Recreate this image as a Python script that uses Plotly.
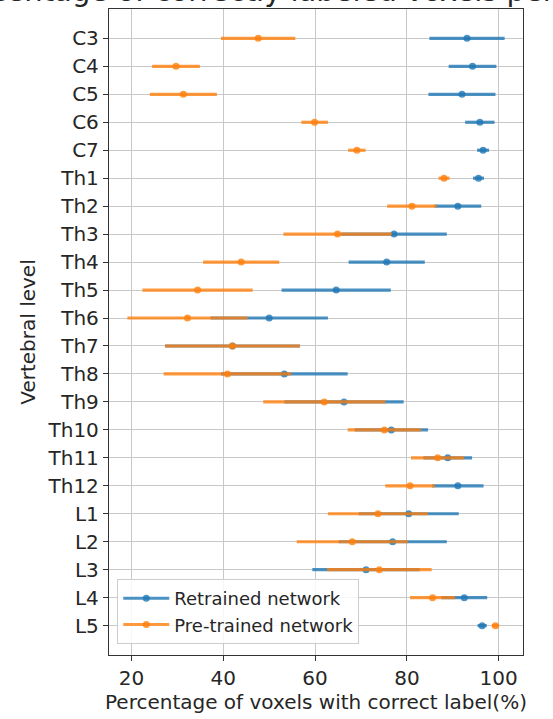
import plotly.graph_objects as go

levels = ["C3", "C4", "C5", "C6", "C7", "Th1", "Th2", "Th3", "Th4", "Th5", "Th6",
          "Th7", "Th8", "Th9", "Th10", "Th11", "Th12", "L1", "L2", "L3", "L4", "L5"]

retrained_mean = [93.1, 94.3, 92.0, 95.9, 96.6, 95.6, 91.1, 77.2, 75.6, 64.6, 50.0,
                  42.0, 53.3, 66.3, 76.6, 88.9, 91.1, 80.4, 76.9, 71.1, 92.5, 96.4]
retrained_err = [8.2, 5.2, 7.3, 3.2, 1.3, 1.2, 5.1, 11.5, 8.3, 11.9, 12.8,
                 14.7, 13.8, 13.0, 8.0, 5.3, 5.6, 10.9, 11.8, 11.7, 5.0, 1.0]

pretrained_mean = [47.6, 29.7, 31.3, 59.9, 69.1, 88.1, 81.1, 64.9, 43.9, 34.4, 32.2,
                   42.0, 40.9, 62.0, 75.1, 86.7, 80.7, 73.7, 68.1, 74.0, 85.6, 99.3]
pretrained_err = [8.1, 5.2, 7.3, 2.9, 1.9, 1.2, 5.4, 11.8, 8.3, 12.0, 13.1,
                  14.7, 13.9, 13.3, 8.0, 5.8, 5.4, 10.9, 12.1, 11.4, 4.9, 0.8]

series_names = ["Retrained network", "Pre-trained network"]

BLUE = "31,119,180"
ORANGE = "255,127,14"
ALPHA = 0.8
FONT = "DejaVu Sans"

fig = go.Figure()

for name, mean, err, rgb in [
    (series_names[0], retrained_mean, retrained_err, BLUE),
    (series_names[1], pretrained_mean, pretrained_err, ORANGE),
]:
    fig.add_trace(go.Scatter(
        x=mean, y=levels, mode="markers", showlegend=False, name=name,
        marker=dict(color=f"rgba({rgb},{ALPHA})", size=7, line=dict(width=0)),
        error_x=dict(type="data", array=err, visible=True, thickness=3.2,
                     width=0, color=f"rgba({rgb},{ALPHA})"),
    ))
    # legend glyph (line + dot)
    fig.add_trace(go.Scatter(
        x=[None], y=[None], mode="lines+markers", name=name, showlegend=True,
        line=dict(color=f"rgba({rgb},{ALPHA})", width=3),
        marker=dict(color=f"rgba({rgb},{ALPHA})", size=7),
    ))

fig.add_annotation(
    text="Percentage of correctly labeled voxels per vertebra",
    xref="paper", yref="paper", x=0.5, y=1.0, xanchor="center", yanchor="bottom",
    yshift=-1, showarrow=False, font=dict(family=FONT, size=29, color="#262626"),
)

fig.update_layout(
    width=553, height=719,
    margin=dict(l=109, r=30, t=9, b=64),
    paper_bgcolor="white", plot_bgcolor="white",
    font=dict(family=FONT, color="#262626"),
    showlegend=True,
    legend=dict(
        x=0.02, y=0.017, xanchor="left", yanchor="bottom",
        bgcolor="rgba(255,255,255,0.85)", bordercolor="#cccccc", borderwidth=1,
        font=dict(family=FONT, size=18, color="#262626"),
        itemwidth=46, tracegroupgap=0,
    ),
    xaxis=dict(
        range=[15.1, 105.3], tickvals=[20, 40, 60, 80, 100],
        showgrid=True, gridcolor="#c8c8c8", gridwidth=1,
        showline=True, linecolor="#333333", linewidth=1.3, mirror=True,
        ticks="outside", ticklen=5, tickcolor="#333333",
        tickfont=dict(family=FONT, size=20, color="#262626"),
        title=dict(text="Percentage of voxels with correct label(%)",
                   font=dict(family=FONT, size=20, color="#262626"), standoff=4),
        zeroline=False,
    ),
    yaxis=dict(
        type="category", categoryorder="array", categoryarray=levels,
        range=[22.05, -1.05],
        showgrid=True, gridcolor="#c8c8c8", gridwidth=1,
        showline=True, linecolor="#333333", linewidth=1.3, mirror=True,
        ticks="outside", ticklen=5, tickcolor="#333333",
        tickfont=dict(family=FONT, size=20, color="#262626"),
        title=dict(text="Vertebral level",
                   font=dict(family=FONT, size=20, color="#262626"), standoff=6),
        zeroline=False,
    ),
)

fig.write_html("out.html")
